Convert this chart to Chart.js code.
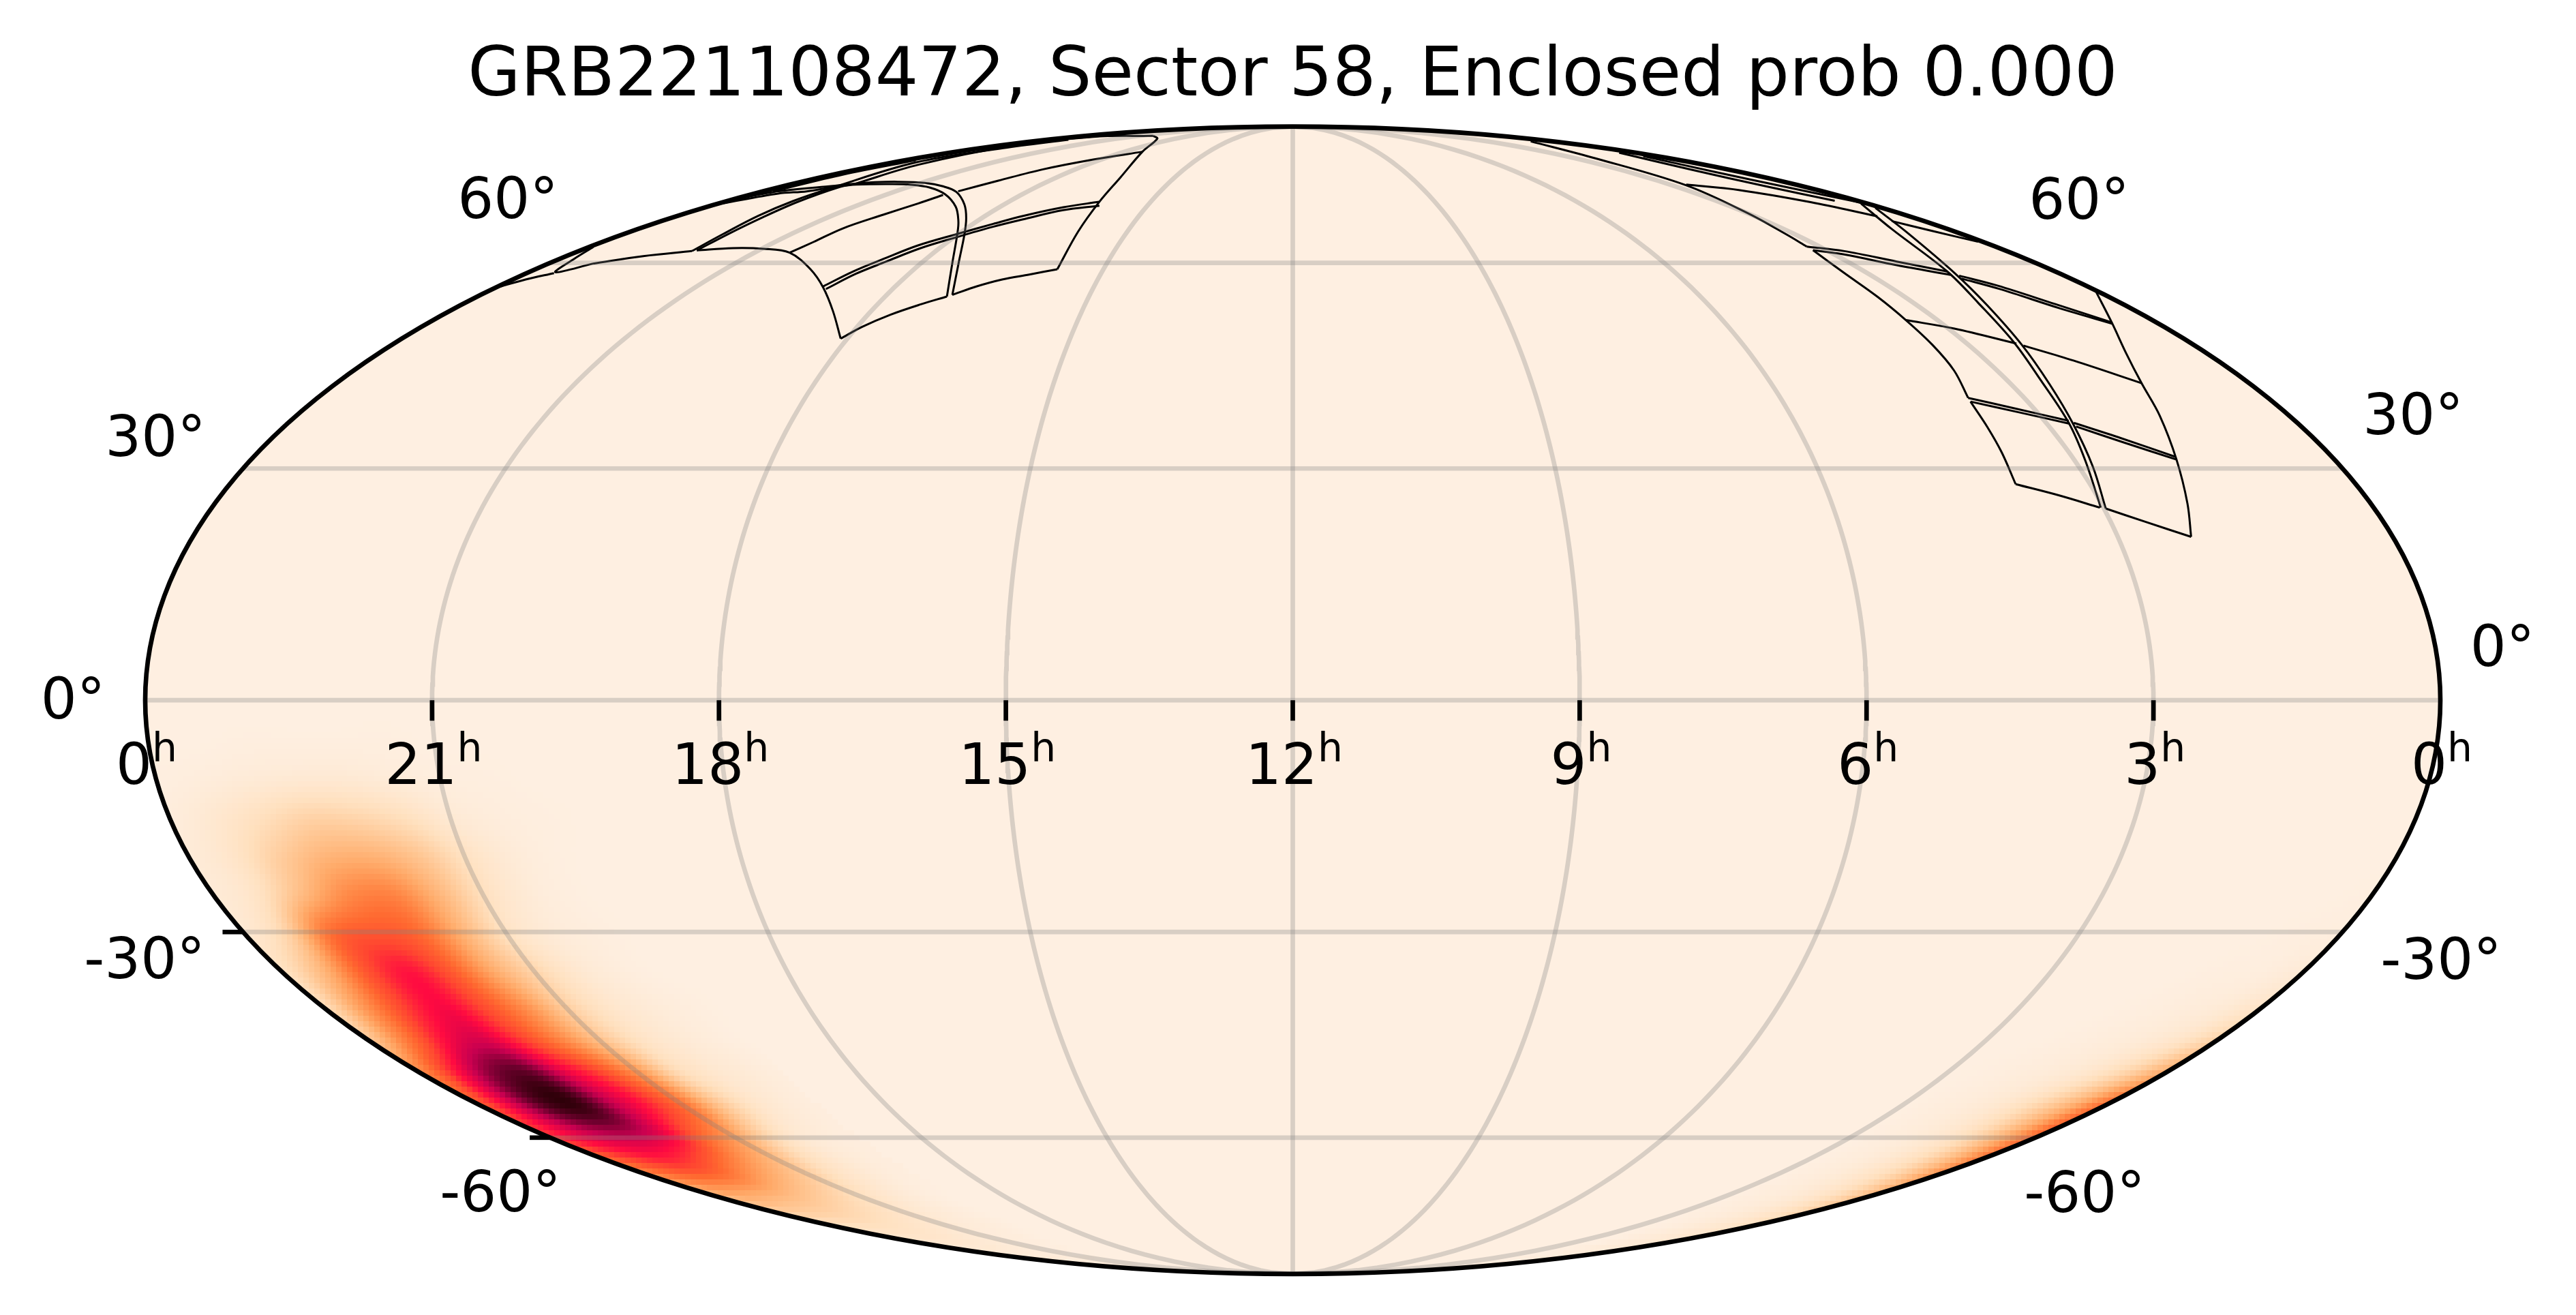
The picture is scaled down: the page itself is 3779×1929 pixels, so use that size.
<!DOCTYPE html>
<html>
<head>
<meta charset="utf-8">
<title>GRB221108472</title>
<script src="https://cdn.jsdelivr.net/npm/chart.js@4"></script>
<style>html,body{margin:0;background:#fff}canvas{display:block}</style>
</head>
<body>
<canvas id="sky" width="3779" height="1929"></canvas>
<script>
// ------------------------------------------------------------
// localisation map on a Mollweide sky, RA runs right to left
// ------------------------------------------------------------
const titleText = "GRB221108472, Sector 58, Enclosed prob 0.000";
const raTicks = [21, 18, 15, 12, 9, 6, 3];
const raTickLabels = ["0", "21", "18", "15", "12", "9", "6", "3", "0"];
const raLabelHours = [24, 21, 18, 15, 12, 9, 6, 3, 0];
const decTicks = [-60, -30, 0, 30, 60];
const decLabels = ["60°", "30°", "0°", "-30°", "-60°", "60°", "30°", "0°", "-30°", "-60°"];

// probability level, rows follow heatDec
const heatDec = [0, -5, -10, -15, -20, -25, -30, -35, -40, -45, -50, -55, -60, -65, -70, -75, -80, -85, -90];
const heatRaWest = [19, 19.5, 20, 20.5, 21, 21.5, 22, 22.5, 23, 23.5, 24];
const heatWest = [
  [0, 0, 0, 0, 0, 0, 0, 0, 0, 0, 0],
  [0, 0, 0, 0, 0, .005, .005, .005, .005, 0, 0],
  [0, 0, 0, .005, .01, .025, .04, .04, .03, .015, .005],
  [0, 0, .005, .015, .04, .1, .14, .15, .1, .05, .015],
  [0, 0, .005, .03, .09, .2, .27, .26, .17, .07, .025],
  [0, 0, .005, .03, .1, .26, .42, .4, .24, .08, .03],
  [0, 0, .01, .03, .09, .27, .5, .55, .48, .15, .04],
  [0, 0, .015, .05, .14, .3, .55, .68, .55, .25, .08],
  [0, .01, .03, .07, .17, .38, .58, .71, .6, .35, .1],
  [0, .015, .04, .09, .22, .42, .62, .77, .7, .45, .18],
  [.01, .03, .06, .14, .38, .6, .75, .92, .88, .68, .4],
  [.01, .03, .08, .22, .48, .66, .8, .96, .94, .76, .55],
  [.01, .02, .05, .15, .33, .5, .7, .78, .78, .72, .62],
  [.01, .02, .05, .1, .2, .3, .42, .55, .6, .55, .45],
  [0, .01, .03, .06, .1, .15, .2, .25, .28, .3, .25],
  [0, .01, .02, .03, .05, .07, .09, .11, .12, .12, .12],
  [0, 0, .01, .01, .02, .03, .04, .05, .05, .05, .05],
  [0, 0, 0, 0, .01, .01, .01, .02, .02, .02, .02],
  [0, 0, 0, 0, 0, 0, 0, 0, 0, 0, 0],
];
const heatRaEast = [0, .5, 1, 1.5, 2, 2.5, 3];
const heatEast = [
  [0, 0, 0, 0, 0, 0, 0],
  [0, 0, 0, 0, 0, 0, 0],
  [0, 0, 0, 0, 0, 0, 0],
  [0, 0, 0, 0, 0, 0, 0],
  [0, 0, 0, 0, 0, 0, 0],
  [.005, 0, 0, 0, 0, 0, 0],
  [.01, .005, 0, 0, 0, 0, 0],
  [.03, .01, .005, 0, 0, 0, 0],
  [.07, .03, .015, .005, 0, 0, 0],
  [.15, .07, .03, .015, .005, 0, 0],
  [.3, .16, .07, .03, .015, .005, 0],
  [.5, .28, .14, .06, .025, .01, 0],
  [.52, .3, .14, .06, .025, .01, 0],
  [.42, .24, .12, .06, .025, .01, 0],
  [.25, .15, .08, .04, .02, .01, 0],
  [.12, .08, .05, .03, .015, .005, 0],
  [.05, .04, .03, .02, .01, 0, 0],
  [.02, .02, .01, .01, 0, 0, 0],
  [0, 0, 0, 0, 0, 0, 0],
];
const colourLevels = [0, .1, .2, .3, .4, .5, .6, .7, .8, .9, 1];
const colourStops = [[254, 239, 225], [255, 224, 190], [255, 197, 145], [255, 170, 105], [255, 138, 72],
  [255, 105, 48], [255, 70, 48], [255, 10, 65], [200, 0, 80], [110, 0, 45], [30, 0, 0]];

// camera footprints, [RA hours, Dec degrees]
const footprintWest = [
  [[18.09,48.22],[18.54,52.33],[19.07,56.03],[19.64,58.95],[20.41,61.69],[20.97,62.34],[21.51,62.45],[22.04,62.07]],
  [[22.10,61.96],[22.73,61.12],[23.28,59.88]],
  [[23.28,59.88],[23.58,58.47],[23.76,60.63],[23.93,62.65]],
  [[23.98,56.03],[23.80,57.30],[23.57,58.32]],
  [[19.09,56.21],[18.92,58.58],[18.70,60.63],[18.43,62.92],[18.01,64.95],[17.62,66.68],[17.26,68.12],[16.69,69.72],[16.09,70.75]],
  [[19.00,55.78],[18.83,58.21],[18.60,60.18],[18.32,62.45],[17.94,64.40],[17.55,66.16],[17.17,67.50],[16.62,69.17],[15.99,70.02]],
  [[20.41,61.69],[20.33,63.50],[20.27,65.87],[20.04,68.33],[19.83,70.45],[19.72,72.07]],
  [[19.58,72.79],[19.26,74.95],[18.89,77.38],[18.24,79.61],[17.36,81.49]],
  [[17.09,54.61],[17.49,59.88],[18.07,65.27],[18.38,67.30],[18.91,69.81],[19.71,72.20],[20.47,73.56],[21.09,74.11],[21.58,74.25],[22.41,74.16],[22.69,73.79],[23.01,72.79],[23.47,72.34],[23.93,70.45]],
  [[17.03,54.86],[17.42,60.25],[17.89,64.88],[18.30,67.71],[18.82,70.23],[19.58,72.65],[20.23,73.79],[20.90,74.48],[21.65,74.72],[22.17,74.62],[22.49,74.34],[22.90,73.79],[23.71,72.65],[24.00,70.75]],
  [[18.09,48.22],[17.93,49.98],[17.68,51.81],[17.38,53.37],[17.09,54.61]],
  [[17.03,54.86],[16.77,56.21],[16.47,57.30],[16.11,58.10],[15.73,58.95]],
  [[15.73,58.95],[15.89,65.27],[16.08,70.67],[16.38,75.67],[17.36,81.49],[18.94,85.10],[20.11,85.95]],
  [[20.11,85.95],[23.08,85.66],[23.36,82.84],[22.91,78.40],[22.51,74.34]],
  [[22.10,61.96],[22.22,64.88],[22.43,68.12],[22.60,70.88],[22.72,73.56],[23.32,78.92],[23.13,82.42],[23.00,84.76]],
  [[22.04,62.07],[22.13,64.88],[22.27,67.91],[22.45,70.75],[22.60,73.56],[22.51,74.34]],
  [[23.77,72.79],[23.74,76.25],[23.68,79.45]],
];
const footprintEast = [
  [[2.20,20.96],[2.04,25.35],[1.82,31.20],[1.56,37.19],[1.35,41.76],[1.06,46.03],[0.62,50.64],[0.04,55.34]],
  [[2.98,24.67],[2.62,22.93],[2.20,20.96]],
  [[3.84,27.90],[3.42,26.40],[3.04,24.79]],
  [[3.84,27.90],[3.78,32.16],[3.74,35.63],[3.70,39.16]],
  [[3.69,39.68],[3.55,43.57],[3.48,47.27],[3.44,50.99],[3.40,54.55],[3.36,58.36],[3.23,62.10]],
  [[3.22,62.72],[3.16,64.76],[3.00,68.56],[2.67,74.02],[2.36,79.89],[0.98,84.29]],
  [[2.62,74.13],[1.80,73.05],[1.09,70.68],[0.62,68.04]],
  [[0.61,67.17],[0.39,65.51],[0.08,63.54]],
  [[3.22,62.72],[2.73,61.95],[2.20,60.21],[1.70,58.59]],
  [[3.23,62.10],[2.84,61.39],[2.31,59.61],[1.75,58.04]],
  [[1.64,57.91],[1.34,56.33],[0.98,53.45],[0.62,50.64]],
  [[1.69,57.45],[1.40,55.79],[1.02,52.80],[0.64,50.43]],
  [[3.44,50.99],[2.92,49.71],[2.34,47.48]],
  [[2.28,47.19],[1.87,45.00],[1.35,41.76]],
  [[3.69,39.68],[3.22,38.17],[2.71,36.49]],
  [[3.70,39.16],[3.22,37.66],[2.73,36.10]],
  [[2.67,36.21],[2.26,34.08],[1.81,31.58]],
  [[2.68,35.71],[2.27,33.50],[1.82,31.20]],
  [[0.13,70.41],[1.02,65.76],[1.70,58.59],[2.06,53.67],[2.35,47.69],[2.57,42.36],[2.73,36.21],[2.88,31.01],[3.03,24.79]],
  [[0.13,69.61],[0.89,65.26],[1.63,58.36],[1.99,53.23],[2.29,47.27],[2.52,41.55],[2.69,36.02],[2.84,30.25],[2.98,24.67]],
  [[0.56,81.27],[1.05,77.31],[0.86,73.73],[0.48,70.95]],
  [[0.43,80.43],[0.67,76.81],[0.46,73.62],[0.07,70.57]],
];

const SQRT2 = Math.SQRT2, GRID_STROKE = "rgba(128,128,128,0.3)", LINE_W = 6.67;
const F_TICK = "83.3px 'DejaVu Sans'", F_SUP = "58.3px 'DejaVu Sans'", F_TITLE = "100px 'DejaVu Sans'";
const PAD = { left: 213, right: 199, top: 185.6, bottom: 60.2 };
const BLOCK = 8;

function mollTheta(dec) {
  const phi = dec * Math.PI / 180;
  if (Math.abs(dec) >= 90) return Math.sign(dec) * Math.PI / 2;
  let t = phi;
  for (let i = 0; i < 40; i++) t -= (2 * t + Math.sin(2 * t) - Math.PI * Math.sin(phi)) / (2 + 2 * Math.cos(2 * t));
  return t;
}
function project(ra, dec) {
  const t = mollTheta(dec);
  return { x: 2 * SQRT2 * (12 - ra) / 12 * Math.cos(t), y: SQRT2 * Math.sin(t) };
}
function unproject(x, y) {
  const t = Math.asin(y / SQRT2);
  return { ra: 12 - 12 * x / (2 * SQRT2 * Math.cos(t)), dec: Math.asin((2 * t + Math.sin(2 * t)) / Math.PI) * 180 / Math.PI };
}

function cubic(a, b, c, d, t) { return b + .5 * t * (c - a + t * (2 * a - 5 * b + 4 * c - d + t * (3 * (b - c) + d - a))); }
function sampleHeat(grid, ras, ra, dec) {
  const fi = (ra - ras[0]) / (ras[1] - ras[0]), fj = (dec - heatDec[0]) / (heatDec[1] - heatDec[0]);
  const i = Math.floor(fi), j = Math.min(Math.floor(fj), grid.length - 2), u = fi - i, v = fj - j;
  const at = (r, q) => grid[Math.max(0, Math.min(grid.length - 1, r))][Math.max(0, Math.min(ras.length - 1, q))];
  const row = r => cubic(at(r, i - 1), at(r, i), at(r, i + 1), at(r, i + 2), u);
  return Math.max(0, Math.min(1, cubic(row(j - 1), row(j), row(j + 1), row(j + 2), v)));
}
function heatAt(ra, dec) {
  if (dec > 0) return 0;
  if (ra >= heatRaWest[0]) return sampleHeat(heatWest, heatRaWest, Math.min(ra, 23.999), dec);
  if (ra <= heatRaEast[heatRaEast.length - 1]) return sampleHeat(heatEast, heatRaEast, Math.max(ra, 0), dec);
  return 0;
}
function colourFor(v) {
  let k = 0;
  while (k < colourLevels.length - 2 && v > colourLevels[k + 1]) k++;
  const t = (v - colourLevels[k]) / (colourLevels[k + 1] - colourLevels[k]);
  return colourStops[k].map((c, n) => Math.round(c + (colourStops[k + 1][n] - c) * t));
}

function ellipsePath(ctx, chart) {
  const a = chart.chartArea;
  ctx.beginPath();
  ctx.ellipse((a.left + a.right) / 2, (a.top + a.bottom) / 2, (a.right - a.left) / 2, (a.bottom - a.top) / 2, 0, 0, Math.PI * 2);
}

const heatPlugin = {
  id: "heat",
  beforeDatasetsDraw(chart) {
    const { ctx, chartArea: a, scales: { x: xs, y: ys } } = chart;
    const nx = Math.ceil((a.right - a.left) / BLOCK), ny = Math.ceil((a.bottom - a.top) / BLOCK);
    const off = document.createElement("canvas");
    off.width = nx; off.height = ny;
    const oc = off.getContext("2d"), img = oc.createImageData(nx, ny);
    for (let j = 0; j < ny; j++) for (let i = 0; i < nx; i++) {
      const vx = xs.getValueForPixel(a.left + (i + .5) * BLOCK), vy = ys.getValueForPixel(a.top + (j + .5) * BLOCK);
      const s = unproject(vx, Math.max(-SQRT2 * .9999, Math.min(SQRT2 * .9999, vy)));
      const c = colourFor(heatAt(Math.max(0, Math.min(24, s.ra)), s.dec));
      const n = (j * nx + i) * 4;
      img.data[n] = c[0]; img.data[n + 1] = c[1]; img.data[n + 2] = c[2]; img.data[n + 3] = 255;
    }
    oc.putImageData(img, 0, 0);
    ctx.save();
    ellipsePath(ctx, chart);
    ctx.clip();
    ctx.imageSmoothingEnabled = false;
    ctx.drawImage(off, a.left, a.top, nx * BLOCK, ny * BLOCK);
    ctx.restore();
  },
};

// label spots follow the original figure
const decLabelSpots = [[745, 320], [228, 669], [107, 1054], [212, 1435], [734, 1777], [3050, 321], [3540, 637], [3671, 977], [3581, 1436], [3058, 1778]];
const furniturePlugin = {
  id: "furniture",
  afterDatasetsDraw(chart) {
    const { ctx, scales: { x: xs, y: ys } } = chart;
    ctx.save();
    ctx.lineWidth = LINE_W; ctx.strokeStyle = "#000";
    ellipsePath(ctx, chart); ctx.stroke();
    const eq = ys.getPixelForValue(0);
    raTicks.forEach(h => {
      const px = xs.getPixelForValue(project(h, 0).x);
      ctx.beginPath(); ctx.moveTo(px, eq); ctx.lineTo(px, eq + 30); ctx.stroke();
    });
    [-30, -60].forEach(d => {
      const p = project(24, d), px = xs.getPixelForValue(p.x), py = ys.getPixelForValue(p.y);
      ctx.beginPath(); ctx.moveTo(px, py); ctx.lineTo(px - 30, py); ctx.stroke();
    });
    ctx.fillStyle = "#000";
    ctx.textBaseline = "alphabetic";
    raTickLabels.forEach((t, i) => {
      const px = xs.getPixelForValue(project(raLabelHours[i], 0).x);
      ctx.font = F_TICK; const w1 = ctx.measureText(t).width;
      ctx.font = F_SUP; const w2 = ctx.measureText("h").width;
      const left = px - (w1 + w2) / 2 + 2;
      ctx.font = F_TICK; ctx.textAlign = "left"; ctx.fillText(t, left, 1150);
      ctx.font = F_SUP; ctx.fillText("h", left + w1, 1117);
    });
    ctx.font = F_TICK; ctx.textAlign = "center";
    decLabels.forEach((t, i) => ctx.fillText(t, decLabelSpots[i][0], decLabelSpots[i][1]));
    ctx.font = F_TITLE;
    ctx.fillText(titleText, xs.getPixelForValue(0), 140);
    ctx.restore();
  },
};

function traceDataset(points) {
  return { data: points.map(p => project(p[0], p[1])), showLine: true, pointRadius: 0, borderColor: "#000", borderWidth: 3, tension: .35 };
}
function graticule() {
  const out = [], sweep = [];
  for (let d = -90; d <= 90; d += 1) sweep.push(d);
  raTicks.forEach(h => out.push({ data: sweep.map(d => project(h, d)), showLine: true, pointRadius: 0, borderColor: GRID_STROKE, borderWidth: LINE_W, tension: 0 }));
  decTicks.forEach(d => out.push({ data: [0, 24].map(h => project(h, d)), showLine: true, pointRadius: 0, borderColor: GRID_STROKE, borderWidth: LINE_W, tension: 0 }));
  return out;
}

new Chart(document.getElementById("sky"), {
  type: "scatter",
  data: { datasets: graticule().concat(footprintWest.map(traceDataset), footprintEast.map(traceDataset)) },
  options: {
    responsive: false, animation: false, devicePixelRatio: 1,
    layout: { padding: PAD },
    plugins: { legend: { display: false }, tooltip: { enabled: false } },
    scales: {
      x: { type: "linear", display: false, min: -2 * SQRT2, max: 2 * SQRT2 },
      y: { type: "linear", display: false, min: -SQRT2, max: SQRT2 },
    },
  },
  plugins: [heatPlugin, furniturePlugin],
});
</script>
</body>
</html>
